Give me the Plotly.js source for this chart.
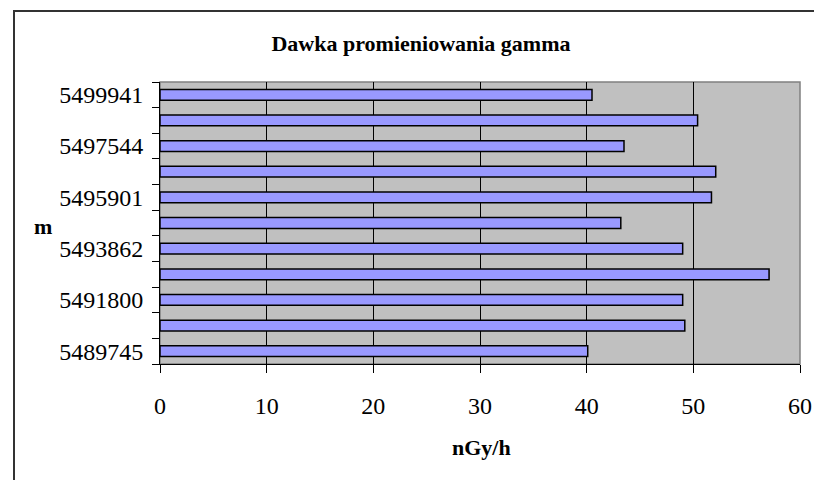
<!DOCTYPE html>
<html>
<head>
<meta charset="utf-8">
<script src="https://cdn.plot.ly/plotly-3.0.1.min.js"></script>
<style>
  html, body { margin: 0; padding: 0; background: #ffffff; }
  #wrap { position: relative; width: 814px; height: 480px; overflow: hidden; }
  #chart { width: 814px; height: 480px; }
  #frame { position: absolute; left: 13px; top: 10px; width: 820px; height: 500px;
           border: 2px solid #333333; box-sizing: border-box; pointer-events: none; }
</style>
</head>
<body>
<div id="wrap">
  <div id="chart"></div>
  <div id="frame"></div>
</div>
<script>
// Categories (bottom to top); unlabeled rows use placeholder ids
const stations = ["5489745", "row2", "5491800", "row4", "5493862", "row6",
                  "5495901", "row8", "5497544", "row10", "5499941"];
const tickLabels = ["5489745", "", "5491800", "", "5493862", "",
                    "5495901", "", "5497544", "", "5499941"];
// Gamma dose rate, nGy/h
const doseValues = [40.1, 49.2, 49.0, 57.1, 49.0, 43.2, 51.7, 52.1, 43.5, 50.4, 40.5];
const xTicks = [0, 10, 20, 30, 40, 50, 60];

const serif = "Liberation Serif";

const trace = {
  type: 'bar',
  orientation: 'h',
  y: stations,
  x: doseValues,
  width: 0.42,
  marker: { color: '#9999FF', line: { color: '#000000', width: 1.5 } },
  hoverinfo: 'x+y'
};

const layout = {
  width: 814,
  height: 480,
  margin: { l: 160, r: 14, t: 82, b: 116 },
  paper_bgcolor: '#ffffff',
  plot_bgcolor: '#C0C0C0',
  showlegend: false,
  font: { family: serif, color: '#000000' },
  title: {
    text: '<b>Dawka promieniowania gamma</b>',
    font: { family: serif, size: 22, color: '#000000' },
    x: 421 / 814, xref: 'container', xanchor: 'center',
    y: 1 - 43 / 480, yref: 'container', yanchor: 'middle'
  },
  xaxis: {
    range: [0, 60],
    tickvals: xTicks,
    ticktext: xTicks.map(String),
    ticks: 'outside', ticklen: 8, tickcolor: '#000000', tickwidth: 1,
    ticklabelstandoff: 12,
    tickfont: { family: serif, size: 24, color: '#000000' },
    showgrid: true, gridcolor: '#000000', gridwidth: 1,
    showline: true, linecolor: '#000000', linewidth: 1,
    zeroline: false,
    fixedrange: true
  },
  yaxis: {
    type: 'category',
    categoryorder: 'array',
    categoryarray: stations,
    tickvals: stations,
    ticktext: tickLabels,
    tickson: 'boundaries',
    ticks: 'outside', ticklen: 7, tickcolor: '#000000', tickwidth: 1,
    ticklabelstandoff: 11,
    tickfont: { family: serif, size: 24, color: '#000000' },
    showgrid: false,
    showline: true, linecolor: '#000000', linewidth: 1,
    zeroline: false,
    fixedrange: true
  },
  shapes: [{
    type: 'rect', xref: 'x domain', yref: 'y domain',
    x0: 0, x1: 1, y0: 0, y1: 1,
    line: { color: '#808080', width: 1.5 },
    layer: 'below'
  }],
  annotations: [
    {
      text: '<b>m</b>', xref: 'paper', yref: 'paper',
      x: (43 - 160) / 640, y: (364 - 226) / 282,
      xanchor: 'center', yanchor: 'middle', showarrow: false,
      font: { family: serif, size: 22, color: '#000000' }
    },
    {
      text: '<b>nGy/h</b>', xref: 'paper', yref: 'paper',
      x: (481 - 160) / 640, y: (364 - 447) / 282,
      xanchor: 'center', yanchor: 'middle', showarrow: false,
      font: { family: serif, size: 22, color: '#000000' }
    }
  ]
};

Plotly.newPlot('chart', [trace], layout, { displayModeBar: false, staticPlot: true });
</script>
</body>
</html>
